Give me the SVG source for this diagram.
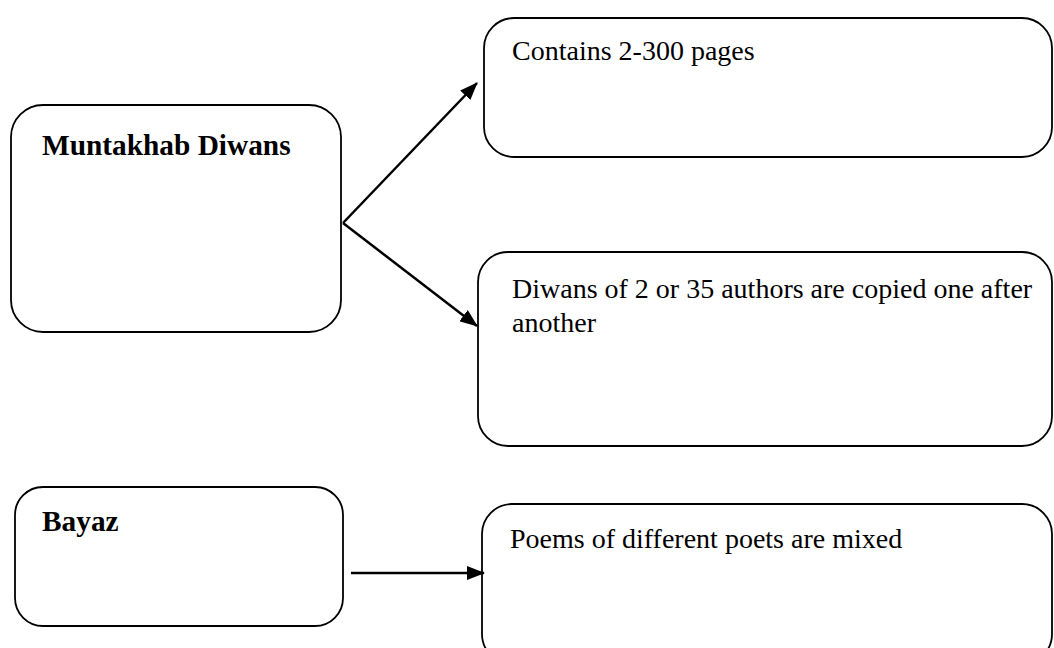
<svg xmlns="http://www.w3.org/2000/svg" width="1054" height="648" viewBox="0 0 1054 648">
  <style>
    .box { fill: #ffffff; stroke: #000000; stroke-width: 1.8; }
    .link { fill: none; stroke: #000000; stroke-width: 2.5; marker-end: url(#head); }
    .title { font-family: "Liberation Serif", "Times New Roman", serif; font-size: 22pt; font-weight: bold; fill: #000000; }
    .body { font-family: "Liberation Serif", "Times New Roman", serif; font-size: 21pt; fill: #000000; }
  </style>
  <defs>
    <marker id="head" viewBox="0 0 18 14" refX="17" refY="7" markerWidth="18" markerHeight="14" markerUnits="userSpaceOnUse" orient="auto">
      <path d="M0,0 L18,7 L0,14 Z" fill="#000000"/>
    </marker>
  </defs>
  <rect width="1054" height="648" fill="#ffffff"/>

  <g id="muntakhab-diwans">
    <rect class="box" x="11" y="105" width="330" height="227" rx="32" ry="32"/>
    <text class="title" x="42" y="155">Muntakhab Diwans</text>
  </g>

  <g id="contains-pages">
    <rect class="box" x="484" y="18" width="568" height="139" rx="30" ry="30"/>
    <text class="body" x="512" y="60">Contains 2-300 pages</text>
  </g>

  <g id="diwans-copied">
    <rect class="box" x="478" y="252" width="574" height="194" rx="30" ry="30"/>
    <text class="body" x="512" y="298">Diwans of 2 or 35 authors are copied one after</text>
    <text class="body" x="512" y="332">another</text>
  </g>

  <g id="bayaz">
    <rect class="box" x="15" y="487" width="328" height="139" rx="28" ry="28"/>
    <text class="title" x="42" y="531">Bayaz</text>
  </g>

  <g id="poems-mixed">
    <rect class="box" x="482" y="504" width="570" height="160" rx="30" ry="30"/>
    <text class="body" x="510" y="548">Poems of different poets are mixed</text>
  </g>

  <g id="connectors">
    <path class="link" d="M343,223 L477,83"/>
    <path class="link" d="M343,223 L477,326"/>
    <path class="link" d="M351,573 L484,573"/>
  </g>
</svg>
